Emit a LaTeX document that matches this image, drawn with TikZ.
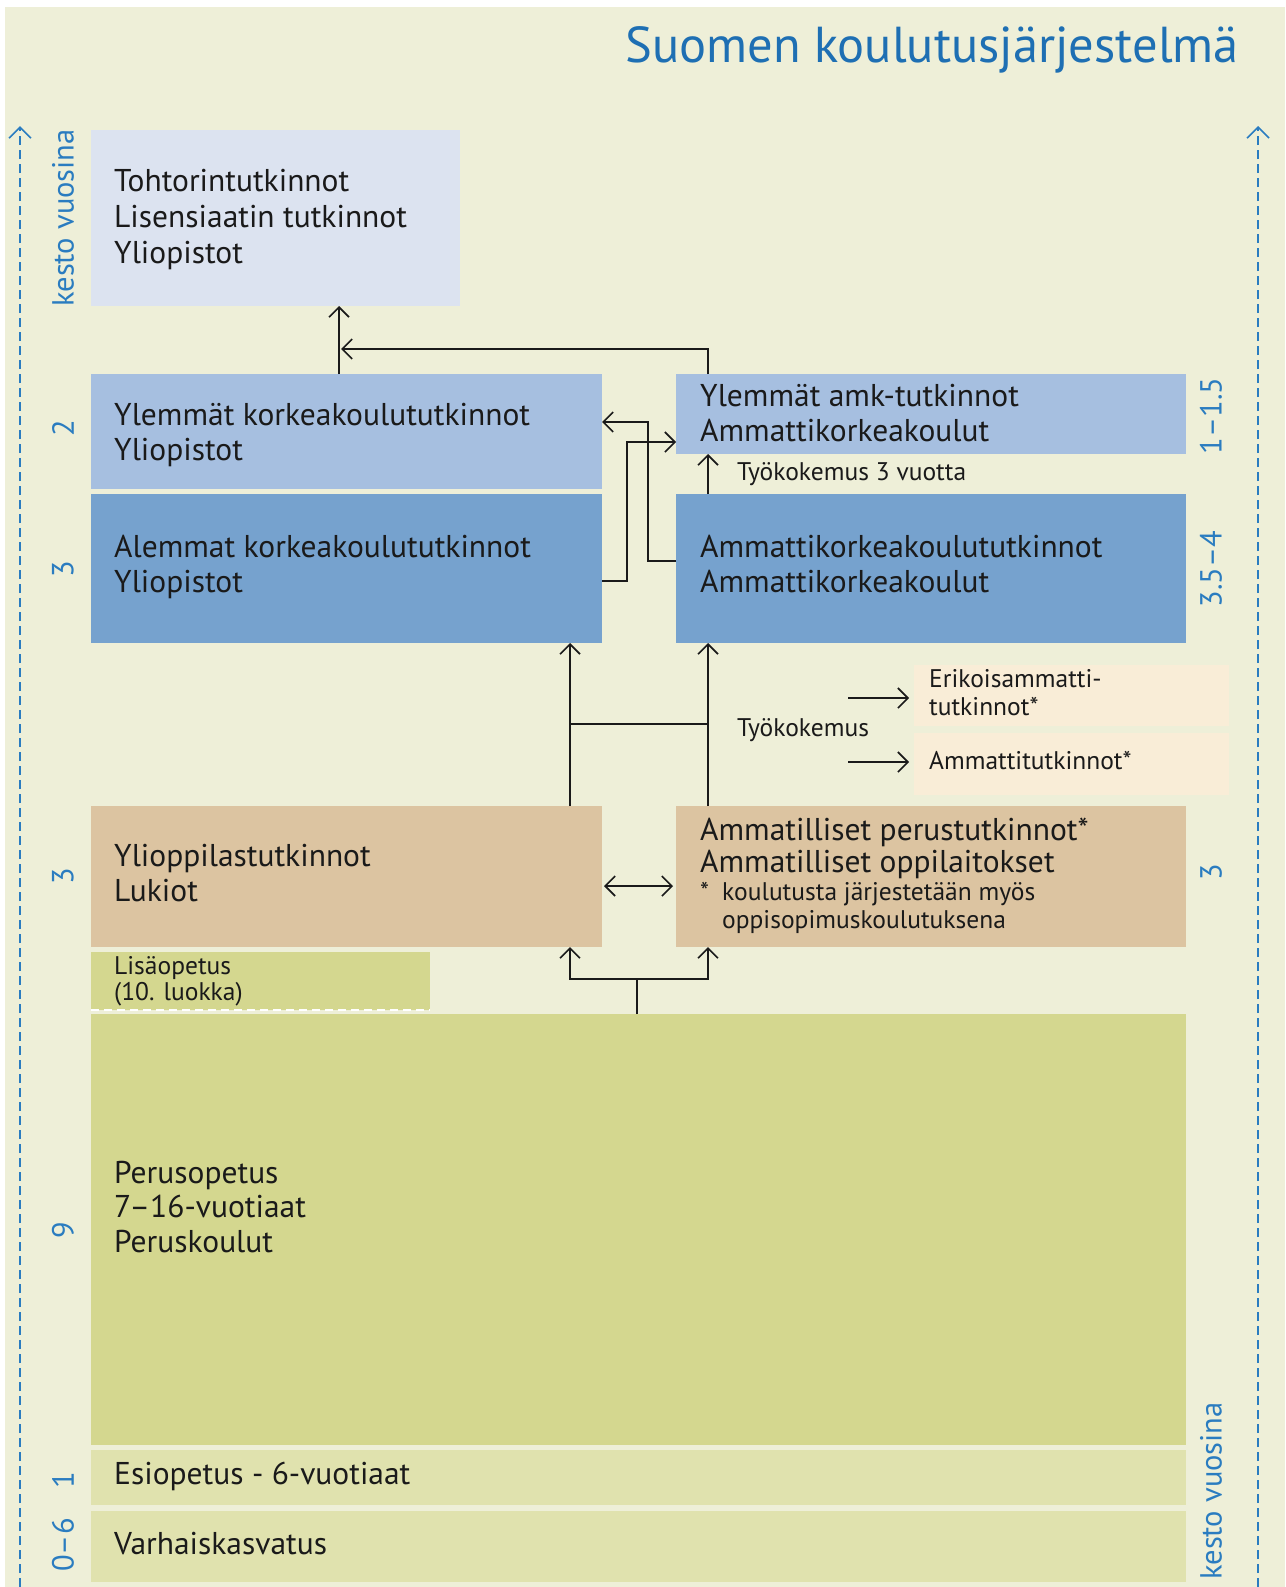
\documentclass[tikz,border=0pt]{standalone}
\usepackage{fontspec}
\setmainfont{PT Sans}
\usetikzlibrary{arrows.meta,calc}
\definecolor{bg}{HTML}{EEEFD8}
\definecolor{ink}{HTML}{1A1A1A}
\definecolor{numblue}{HTML}{2A7CC0}
\definecolor{titleblue}{HTML}{1E6FB3}
\definecolor{cTohtori}{HTML}{DCE3F0}
\definecolor{cYlempi}{HTML}{A6BFE0}
\definecolor{cAlempi}{HTML}{76A2CE}
\definecolor{cErik}{HTML}{F9EDD7}
\definecolor{cToinen}{HTML}{DCC4A1}
\definecolor{cPerus}{HTML}{D4D78F}
\definecolor{cEsi}{HTML}{E0E2AE}
\begin{document}
\begin{tikzpicture}[x=1pt,y=-1pt,
  box/.style={rectangle, inner sep=0pt, outer sep=0pt, anchor=north west},
  lbl/.style={anchor=base west, align=left, inner sep=0pt, text=ink, font=\fontsize{31.5}{35}\selectfont},
  small/.style={anchor=base west, align=left, inner sep=0pt, text=ink, font=\fontsize{25.5}{28}\selectfont},
  num/.style={rotate=90, text=numblue, font=\fontsize{30.5}{32}\selectfont, inner sep=0pt},
  conn/.style={draw=ink, line width=1.8pt},
  tip/.tip={Straight Barb[length=10pt,width=20pt,line width=1.6pt]},
  arr/.style={conn, -tip},
  darr/.style={conn, tip-tip},
  axisline/.style={draw=numblue, line width=1.6pt, dash pattern=on 9pt off 5pt,
     -{Straight Barb[length=11pt,width=22pt,line width=1.6pt]}}]
\useasboundingbox (0,0) rectangle (1285,1587);
\fill[white] (0,0) rectangle (1285,1587);
\fill[bg] (5,7) rectangle (1285,1587);

% title
\node[anchor=base east, inner sep=0pt, text=titleblue, font=\fontsize{50.5}{54}\selectfont] (title) at (1239,63) {Suomen koulutusjärjestelmä};

% axes
\coordinate (axLb) at (20,1587);
\coordinate (axLt) at (20,126);
\coordinate (axRb) at (1258,1587);
\coordinate (axRt) at (1258,126);
\draw[axisline] (axLb) -- (axLt);
\draw[axisline] (axRb) -- (axRt);
\node[num] (kestoL) at (63,218) {kesto vuosina};
\node[num] (kestoR) at (1211,1491) {kesto vuosina};

% boxes
\node[box, fill=cTohtori, minimum width=369pt, minimum height=176pt] (tohtori) at (91,130) {};
\node[box, fill=cYlempi, minimum width=511pt, minimum height=115pt] (ylk) at (91,374) {};
\node[box, fill=cAlempi, minimum width=511pt, minimum height=149pt] (alk) at (91,494) {};
\node[box, fill=cYlempi, minimum width=510pt, minimum height=80pt] (yamk) at (676,374) {};
\node[box, fill=cAlempi, minimum width=510pt, minimum height=149pt] (amk) at (676,494) {};
\node[box, fill=cErik, minimum width=315pt, minimum height=61pt] (erik) at (914,665) {};
\node[box, fill=cErik, minimum width=315pt, minimum height=62pt] (ammt) at (914,733) {};
\node[box, fill=cToinen, minimum width=511pt, minimum height=141pt] (lukio) at (91,806) {};
\node[box, fill=cToinen, minimum width=510pt, minimum height=141pt] (ammp) at (676,806) {};
\node[box, fill=cPerus, minimum width=339pt, minimum height=58pt] (lisa) at (91,952) {};
\node[box, fill=cPerus, minimum width=1095pt, minimum height=431pt] (perus) at (91,1014) {};
\node[box, fill=cEsi, minimum width=1095pt, minimum height=55pt] (esi) at (91,1450) {};
\node[box, fill=cEsi, minimum width=1095pt, minimum height=71pt] (varh) at (91,1511) {};
\draw[white, line width=2pt, dash pattern=on 8pt off 5pt] (lisa.south west) -- (lisa.south east);

% texts (anchor = baseline of the last line)
\node[lbl, font=\fontsize{31.5}{36}\selectfont] (tTohtori) at (114,263) {Tohtorintutkinnot\\Lisensiaatin tutkinnot\\Yliopistot};
\node[lbl] (tYlk) at (114,460) {Ylemmät korkeakoulututkinnot\\Yliopistot};
\node[lbl] (tAlk) at (114,592) {Alemmat korkeakoulututkinnot\\Yliopistot};
\node[lbl] (tYamk) at (700,441) {Ylemmät amk-tutkinnot\\Ammattikorkeakoulut};
\node[lbl] (tAmk) at (700,592) {Ammattikorkeakoulututkinnot\\Ammattikorkeakoulut};
\node[small] (tTyo3) at (737,480) {Työkokemus 3 vuotta};
\node[small] (tErik) at (929,715) {Erikoisammatti-\\tutkinnot*};
\node[small] (tAmmt) at (929,769) {Ammattitutkinnot*};
\node[small] (tTyo) at (737,736) {Työkokemus};
\node[lbl] (tLukio) at (114,901) {Ylioppilastutkinnot\\Lukiot};
\node[lbl, font=\fontsize{31.5}{32}\selectfont] (tAmmp) at (700,872) {Ammatilliset perustutkinnot*\\Ammatilliset oppilaitokset};
\node[small] (tStar) at (700,900) {*};
\node[small] (tOppi) at (722,928) {koulutusta järjestetään myös\\oppisopimuskoulutuksena};
\node[small, font=\fontsize{25.5}{26}\selectfont] (tLisa) at (114,1000) {Lisäopetus\\(10. luokka)};
\node[lbl, font=\fontsize{31.5}{34.5}\selectfont] (tPerus) at (114,1252) {Perusopetus\\7–16-vuotiaat\\Peruskoulut};
\node[lbl] (tEsi) at (114,1484) {Esiopetus - 6-vuotiaat};
\node[lbl] (tVarh) at (114,1554) {Varhaiskasvatus};

% durations
\node[num] (n2) at (63,428) {2};
\node[num] (n3a) at (63,569) {3};
\node[num] (n3b) at (63,876) {3};
\node[num] (n9) at (63,1230) {9};
\node[num] (n1) at (63,1480) {1};
\node[num] (n06) at (63,1545) {0–6};
\node[num] (r115) at (1211,416) {1–1.5};
\node[num] (r354) at (1211,569) {3.5–4};
\node[num] (r3) at (1211,872) {3};

% connectors
\coordinate (xA) at (339,0);
\coordinate (xB) at (708,0);
\coordinate (xC) at (570,0);
\coordinate (xD) at (637,0);
\draw[arr] (ylk.north -| xA) -- (tohtori.south -| xA);
\coordinate (jTop) at (341,349);
\draw[arr] (yamk.north -| xB) |- (jTop);
\draw[arr] ($(amk.north west)+(0,67)$) -- ++(-28,0) |- ($(ylk.north east)+(0,48)$);
\draw[arr] ($(alk.north east)+(0,87)$) -- ++(25,0) |- ($(yamk.north west)+(0,68)$);
\draw[arr] (amk.north -| xB) -- (yamk.south -| xB);
\draw[arr] (lukio.north -| xC) -- (alk.south -| xC);
\draw[arr] (ammp.north -| xB) -- (amk.south -| xB);
\coordinate (hA) at (570,724);
\coordinate (hB) at (708,724);
\draw[conn] (hA) -- (hB);
\coordinate (tk1) at (848,698);
\coordinate (tk2) at (848,762);
\draw[arr, shorten >=5pt] (tk1) -- (erik.west |- tk1);
\draw[arr, shorten >=5pt] (tk2) -- (ammt.west |- tk2);
\coordinate (yMid) at (0,886);
\draw[darr, shorten <=2pt, shorten >=3pt] (lukio.east |- yMid) -- (ammp.west |- yMid);
\coordinate (split) at (637,979);
\draw[conn] (perus.north -| xD) -- (split);
\draw[arr] (split) -| (lukio.south -| xC);
\draw[arr] (split) -| (ammp.south -| xB);
\end{tikzpicture}
\end{document}
